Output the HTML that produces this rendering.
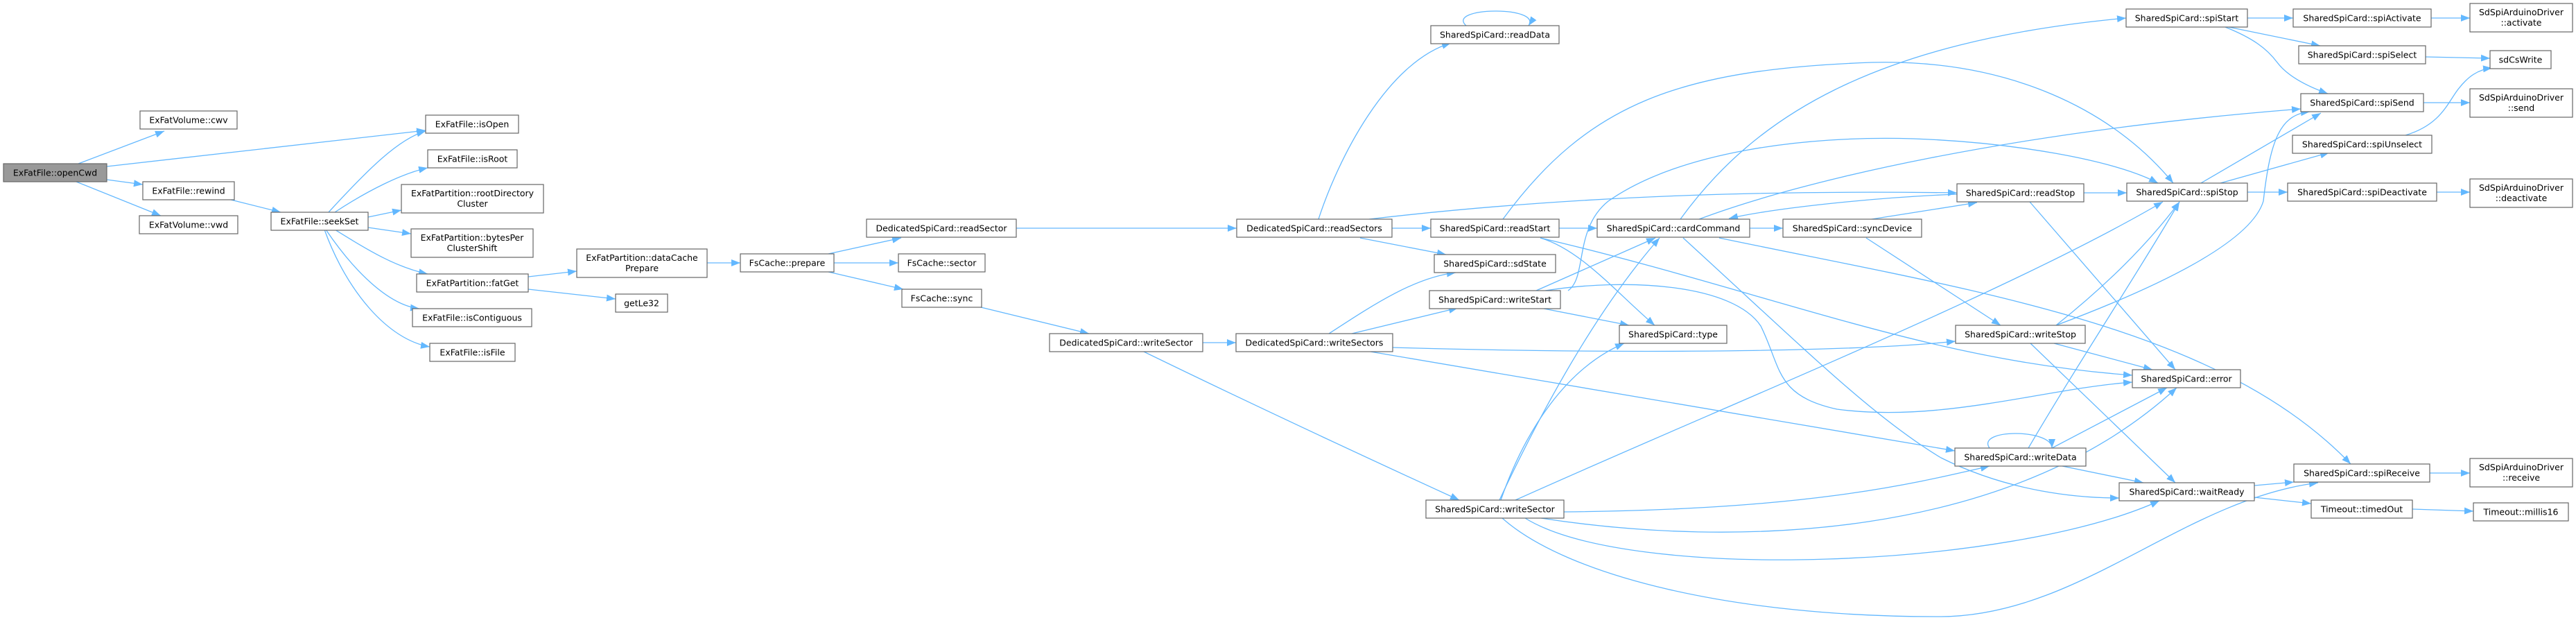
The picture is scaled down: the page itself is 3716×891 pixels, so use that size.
<!DOCTYPE html>
<html><head><meta charset="utf-8"><style>
html,body{margin:0;padding:0;background:#fff;}
svg{display:block;}
text{font-family:"DejaVu Sans","Liberation Sans",sans-serif;font-size:12.5px;fill:#000;text-anchor:middle;}
.n{fill:#fff;stroke:#666;stroke-width:1.2;}
.e{fill:none;stroke:#63b8ff;stroke-width:1.3;marker-end:url(#a);}
</style></head><body>
<svg width="3716" height="891" viewBox="0 0 3716 891" xmlns="http://www.w3.org/2000/svg">
<defs><marker id="a" markerUnits="userSpaceOnUse" markerWidth="14" markerHeight="10" refX="13" refY="5" orient="auto"><path d="M0,0 L13,5 L0,10 z" fill="#63b8ff"/></marker></defs>
<g>
<path class="e" d="M113,236 L237,189"/>
<path class="e" d="M154,240 L614,188"/>
<path class="e" d="M154,259 L206,266"/>
<path class="e" d="M110,262 L232,311"/>
<path class="e" d="M329,287 L405,306"/>
<path class="e" d="M474,306 C530,245 575,200 614,189"/>
<path class="e" d="M483,306 C530,275 580,250 617,242"/>
<path class="e" d="M531,313 L579,303"/>
<path class="e" d="M531,328 L593,337"/>
<path class="e" d="M483,331 C530,360 570,385 617,395"/>
<path class="e" d="M470,331 C510,390 560,440 605,445"/>
<path class="e" d="M468,331 C500,420 560,490 620,500"/>
<path class="e" d="M762,399 L832,391"/>
<path class="e" d="M762,417 L888,431"/>
<path class="e" d="M1020,379 L1068,379"/>
<path class="e" d="M1195,366 L1300,343"/>
<path class="e" d="M1203,379 L1296,379"/>
<path class="e" d="M1195,392 L1303,417"/>
<path class="e" d="M1415,443 L1571,481"/>
<path class="e" d="M1466,329 L1784,329"/>
<path class="e" d="M1735,494 L1783,494"/>
<path class="e" d="M1650,507 C1800,580 1950,650 2105,721"/>
<path class="e" d="M1902,316 C1930,230 2000,90 2093,62"/>
<path class="e" d="M2008,329 L2064,329"/>
<path class="e" d="M1962,343 L2086,367"/>
<path class="e" d="M1975,316 C2300,278 2600,275 2823,278"/>
<path class="e" d="M2115,37 C2085,10 2225,8 2205,37"/>
<path class="e" d="M2249,329 L2304,329"/>
<path class="e" d="M2168,316 C2290,150 2420,100 2700,90 C2900,85 3050,160 3135,264"/>
<path class="e" d="M2222,343 C2280,360 2330,420 2387,469"/>
<path class="e" d="M2222,343 C2550,420 2780,520 3076,541"/>
<path class="e" d="M2524,329 L2572,329"/>
<path class="e" d="M2424,316 C2530,170 2700,60 3067,26"/>
<path class="e" d="M2451,316 C2600,260 2900,190 3319,157"/>
<path class="e" d="M2480,343 C2850,420 3200,470 3391,669"/>
<path class="e" d="M2428,343 C2600,500 2700,600 2800,660 C2900,710 3000,718 3057,718"/>
<path class="e" d="M2823,280 C2700,285 2560,300 2494,315"/>
<path class="e" d="M2700,316 L2852,292"/>
<path class="e" d="M2692,343 L2886,469"/>
<path class="e" d="M3006,278 L3068,278"/>
<path class="e" d="M2928,291 L3138,533"/>
<path class="e" d="M3242,26 L3308,26"/>
<path class="e" d="M3215,39 L3347,66"/>
<path class="e" d="M3210,39 C3250,55 3270,70 3285,90 C3300,110 3330,125 3358,135"/>
<path class="e" d="M3507,26 L3563,26"/>
<path class="e" d="M3499,82 L3592,84"/>
<path class="e" d="M3496,148 L3563,148"/>
<path class="e" d="M3470,195 C3520,180 3530,150 3545,130 C3560,110 3575,100 3595,98"/>
<path class="e" d="M3175,264 L3348,163"/>
<path class="e" d="M3203,264 L3360,220"/>
<path class="e" d="M3242,277 L3300,277"/>
<path class="e" d="M3515,277 L3563,277"/>
<path class="e" d="M2966,469 C3040,410 3100,350 3144,291"/>
<path class="e" d="M2966,469 C3150,400 3250,340 3265,290 C3275,200 3290,165 3332,161"/>
<path class="e" d="M2963,495 L3105,533"/>
<path class="e" d="M2929,495 L3138,696"/>
<path class="e" d="M2870,646 C2850,618 2960,618 2960,646"/>
<path class="e" d="M2926,646 C3000,520 3080,400 3144,291"/>
<path class="e" d="M2960,646 L3126,559"/>
<path class="e" d="M2975,672 L3092,696"/>
<path class="e" d="M3252,700 L3309,695"/>
<path class="e" d="M3252,717 L3334,726"/>
<path class="e" d="M3505,682 L3563,682"/>
<path class="e" d="M3480,734 L3568,737"/>
<path class="e" d="M1917,481 C1980,440 2040,400 2100,393"/>
<path class="e" d="M1950,481 L2103,444"/>
<path class="e" d="M2009,501 C2400,512 2700,505 2821,492"/>
<path class="e" d="M1977,507 L2820,650"/>
<path class="e" d="M2216,419 L2388,343"/>
<path class="e" d="M2222,444 L2350,469"/>
<path class="e" d="M2262,419 C2290,400 2270,330 2320,290 C2420,220 2600,195 2760,200 C2900,205 3050,230 3113,264"/>
<path class="e" d="M2229,419 C2350,400 2500,410 2540,470 C2570,530 2560,570 2650,590 C2800,610 2950,560 3076,551"/>
<path class="e" d="M2163,721 C2220,600 2300,450 2394,343"/>
<path class="e" d="M2165,721 C2200,620 2260,530 2343,495"/>
<path class="e" d="M2186,721 C2500,580 2900,420 3120,291"/>
<path class="e" d="M2256,738 C2600,735 2750,700 2870,672"/>
<path class="e" d="M2223,747 C2500,790 2900,780 3140,559"/>
<path class="e" d="M2200,747 C2350,840 2900,820 3115,722"/>
<path class="e" d="M2167,747 C2260,830 2500,890 2800,889 C3000,888 3150,720 3344,696"/>
</g>
<g>
<rect x="5" y="236" width="149" height="26" fill="#999" stroke="#666" stroke-width="1.2"/><text x="79.5" y="253.5">ExFatFile::openCwd</text>
<rect class="n" x="202" y="160" width="140" height="26"/><text x="272" y="177.5">ExFatVolume::cwv</text>
<rect class="n" x="614" y="166" width="134" height="26"/><text x="681" y="183.5">ExFatFile::isOpen</text>
<rect class="n" x="617" y="216" width="129" height="26"/><text x="681.5" y="233.5">ExFatFile::isRoot</text>
<rect class="n" x="579" y="266" width="205" height="41"/><text x="681.5" y="283">ExFatPartition::rootDirectory</text><text x="681.5" y="298">Cluster</text>
<rect class="n" x="206" y="262" width="132" height="26"/><text x="272" y="279.5">ExFatFile::rewind</text>
<rect class="n" x="201" y="311" width="142" height="26"/><text x="272" y="328.5">ExFatVolume::vwd</text>
<rect class="n" x="391" y="306" width="140" height="26"/><text x="461" y="323.5">ExFatFile::seekSet</text>
<rect class="n" x="593" y="330" width="176" height="41"/><text x="681" y="347">ExFatPartition::bytesPer</text><text x="681" y="362">ClusterShift</text>
<rect class="n" x="601" y="395" width="161" height="26"/><text x="681.5" y="412.5">ExFatPartition::fatGet</text>
<rect class="n" x="595" y="445" width="172" height="26"/><text x="681" y="462.5">ExFatFile::isContiguous</text>
<rect class="n" x="620" y="495" width="123" height="26"/><text x="681.5" y="512.5">ExFatFile::isFile</text>
<rect class="n" x="832" y="359" width="188" height="41"/><text x="926" y="376">ExFatPartition::dataCache</text><text x="926" y="391">Prepare</text>
<rect class="n" x="888" y="424" width="75" height="26"/><text x="925.5" y="441.5">getLe32</text>
<rect class="n" x="1068" y="366" width="135" height="26"/><text x="1135.5" y="383.5">FsCache::prepare</text>
<rect class="n" x="1250" y="316" width="216" height="26"/><text x="1358" y="333.5">DedicatedSpiCard::readSector</text>
<rect class="n" x="1296" y="366" width="125" height="26"/><text x="1358.5" y="383.5">FsCache::sector</text>
<rect class="n" x="1301" y="417" width="115" height="26"/><text x="1358.5" y="434.5">FsCache::sync</text>
<rect class="n" x="1514" y="481" width="221" height="26"/><text x="1624.5" y="498.5">DedicatedSpiCard::writeSector</text>
<rect class="n" x="1784" y="316" width="224" height="26"/><text x="1896" y="333.5">DedicatedSpiCard::readSectors</text>
<rect class="n" x="1783" y="481" width="226" height="26"/><text x="1896" y="498.5">DedicatedSpiCard::writeSectors</text>
<rect class="n" x="2064" y="37" width="185" height="26"/><text x="2156.5" y="54.5">SharedSpiCard::readData</text>
<rect class="n" x="2064" y="316" width="185" height="26"/><text x="2156.5" y="333.5">SharedSpiCard::readStart</text>
<rect class="n" x="2069" y="367" width="175" height="26"/><text x="2156.5" y="384.5">SharedSpiCard::sdState</text>
<rect class="n" x="2062" y="419" width="189" height="26"/><text x="2156.5" y="436.5">SharedSpiCard::writeStart</text>
<rect class="n" x="2057" y="721" width="199" height="26"/><text x="2156.5" y="738.5">SharedSpiCard::writeSector</text>
<rect class="n" x="2304" y="316" width="220" height="26"/><text x="2414" y="333.5">SharedSpiCard::cardCommand</text>
<rect class="n" x="2572" y="316" width="200" height="26"/><text x="2672" y="333.5">SharedSpiCard::syncDevice</text>
<rect class="n" x="2336" y="469" width="155" height="26"/><text x="2413.5" y="486.5">SharedSpiCard::type</text>
<rect class="n" x="3067" y="13" width="175" height="26"/><text x="3154.5" y="30.5">SharedSpiCard::spiStart</text>
<rect class="n" x="3308" y="13" width="199" height="26"/><text x="3407.5" y="30.5">SharedSpiCard::spiActivate</text>
<rect class="n" x="3563" y="5" width="148" height="41"/><text x="3637" y="22">SdSpiArduinoDriver</text><text x="3637" y="37">::activate</text>
<rect class="n" x="3316" y="66" width="183" height="26"/><text x="3407.5" y="83.5">SharedSpiCard::spiSelect</text>
<rect class="n" x="3592" y="73" width="88" height="26"/><text x="3636" y="90.5">sdCsWrite</text>
<rect class="n" x="3319" y="135" width="177" height="26"/><text x="3407.5" y="152.5">SharedSpiCard::spiSend</text>
<rect class="n" x="3563" y="128" width="148" height="41"/><text x="3637" y="145">SdSpiArduinoDriver</text><text x="3637" y="160">::send</text>
<rect class="n" x="3307" y="195" width="201" height="26"/><text x="3407.5" y="212.5">SharedSpiCard::spiUnselect</text>
<rect class="n" x="2823" y="265" width="183" height="26"/><text x="2914.5" y="282.5">SharedSpiCard::readStop</text>
<rect class="n" x="3068" y="264" width="174" height="26"/><text x="3155" y="281.5">SharedSpiCard::spiStop</text>
<rect class="n" x="3300" y="264" width="215" height="26"/><text x="3407.5" y="281.5">SharedSpiCard::spiDeactivate</text>
<rect class="n" x="3563" y="258" width="148" height="41"/><text x="3637" y="275">SdSpiArduinoDriver</text><text x="3637" y="290">::deactivate</text>
<rect class="n" x="2821" y="469" width="187" height="26"/><text x="2914.5" y="486.5">SharedSpiCard::writeStop</text>
<rect class="n" x="3076" y="533" width="156" height="26"/><text x="3154" y="550.5">SharedSpiCard::error</text>
<rect class="n" x="2820" y="646" width="189" height="26"/><text x="2914.5" y="663.5">SharedSpiCard::writeData</text>
<rect class="n" x="3057" y="696" width="195" height="26"/><text x="3154.5" y="713.5">SharedSpiCard::waitReady</text>
<rect class="n" x="3309" y="669" width="196" height="26"/><text x="3407" y="686.5">SharedSpiCard::spiReceive</text>
<rect class="n" x="3563" y="661" width="148" height="41"/><text x="3637" y="678">SdSpiArduinoDriver</text><text x="3637" y="693">::receive</text>
<rect class="n" x="3334" y="721" width="146" height="26"/><text x="3407" y="738.5">Timeout::timedOut</text>
<rect class="n" x="3568" y="725" width="137" height="26"/><text x="3636.5" y="742.5">Timeout::millis16</text>
</g>
</svg>
</body></html>
